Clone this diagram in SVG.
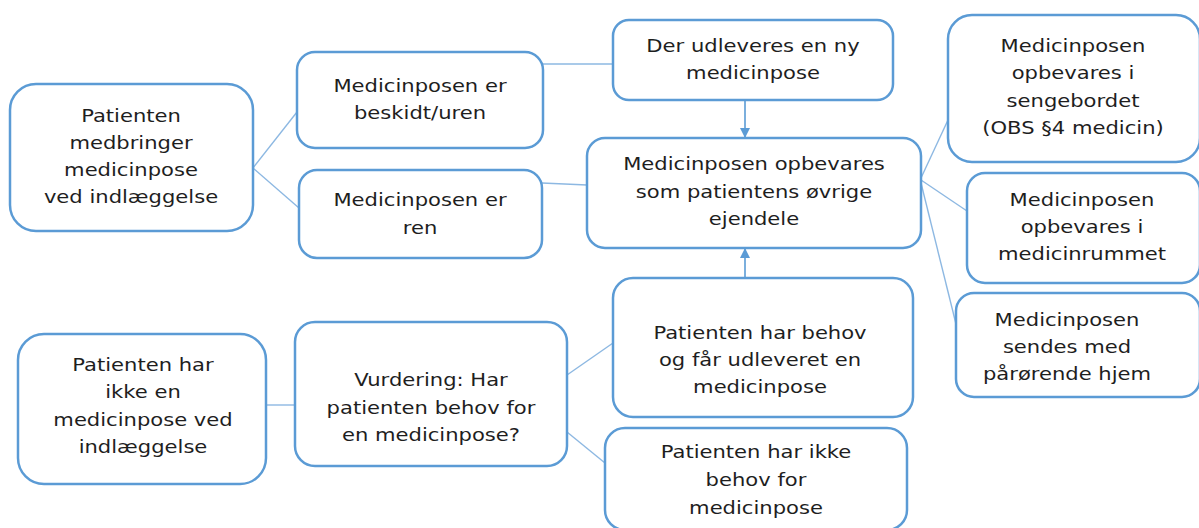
<svg xmlns="http://www.w3.org/2000/svg" width="1199" height="528" viewBox="0 0 1199 528">
<defs>
<style>
.box{fill:#fff;stroke:#5b9bd5;stroke-width:2.5}
.ln{stroke:#8db8e2;stroke-width:1.4;fill:none}
.ar{stroke:#5b9bd5;stroke-width:1.6;fill:none}
text{font-family:"DejaVu Sans","Verdana",sans-serif;font-size:18.5px;fill:#1e1e1e;text-anchor:middle}
</style>
<marker id="ah" viewBox="0 0 10 10" refX="9" refY="5" markerWidth="10" markerHeight="10" markerUnits="userSpaceOnUse" orient="auto">
<path d="M0,0 L10,5 L0,10 z" fill="#5b9bd5"/>
</marker>
</defs>
<rect width="1199" height="528" fill="#fff"/>
<g id="connectors">
<line class="ln" x1="253" y1="168" x2="297" y2="112"/>
<line class="ln" x1="253" y1="168" x2="299" y2="208"/>
<line class="ln" x1="543" y1="64" x2="613" y2="64"/>
<line class="ln" x1="542" y1="183" x2="587" y2="185"/>
<line class="ar" x1="745" y1="100" x2="745" y2="137" marker-end="url(#ah)"/>
<line class="ar" x1="745" y1="278" x2="745" y2="249" marker-end="url(#ah)"/>
<line class="ln" x1="921" y1="178" x2="948" y2="120"/>
<line class="ln" x1="921" y1="180" x2="967" y2="211"/>
<line class="ln" x1="921" y1="183" x2="957" y2="328"/>
<line class="ln" x1="266" y1="405" x2="295" y2="405"/>
<line class="ln" x1="567" y1="375" x2="613" y2="343"/>
<line class="ln" x1="567" y1="432" x2="605" y2="463"/>
</g>
<g id="nA"><rect class="box" x="10" y="84" width="243" height="147" rx="26"/>
<g transform="translate(131,0) scale(1.14,1)"><text x="0" y="122">Patienten</text><text x="0" y="149">medbringer</text><text x="0" y="176">medicinpose</text><text x="0" y="203">ved indlæggelse</text></g></g>
<g id="nB"><rect class="box" x="297" y="52" width="246" height="96" rx="18"/>
<g transform="translate(420,0) scale(1.14,1)"><text x="0" y="92">Medicinposen er</text><text x="0" y="119">beskidt/uren</text></g></g>
<g id="nC"><rect class="box" x="299" y="170" width="243" height="88" rx="18"/>
<g transform="translate(420,0) scale(1.14,1)"><text x="0" y="206">Medicinposen er</text><text x="0" y="234">ren</text></g></g>
<g id="nD"><rect class="box" x="613" y="20" width="280" height="80" rx="16"/>
<g transform="translate(753,0) scale(1.14,1)"><text x="0" y="52">Der udleveres en ny</text><text x="0" y="79">medicinpose</text></g></g>
<g id="nE"><rect class="box" x="587" y="138" width="334" height="110" rx="18"/>
<g transform="translate(754,0) scale(1.14,1)"><text x="0" y="170">Medicinposen opbevares</text><text x="0" y="198">som patientens øvrige</text><text x="0" y="225">ejendele</text></g></g>
<g id="nF"><rect class="box" x="948" y="15" width="252" height="147" rx="24"/>
<g transform="translate(1073,0) scale(1.14,1)"><text x="0" y="52">Medicinposen</text><text x="0" y="79">opbevares i</text><text x="0" y="107">sengebordet</text><text x="0" y="134">(OBS §4 medicin)</text></g></g>
<g id="nG"><rect class="box" x="967" y="173" width="233" height="110" rx="18"/>
<g transform="translate(1082,0) scale(1.14,1)"><text x="0" y="206">Medicinposen</text><text x="0" y="233">opbevares i</text><text x="0" y="260">medicinrummet</text></g></g>
<g id="nH"><rect class="box" x="956" y="293" width="244" height="104" rx="18"/>
<g transform="translate(1067,0) scale(1.14,1)"><text x="0" y="326">Medicinposen</text><text x="0" y="353">sendes med</text><text x="0" y="380">pårørende hjem</text></g></g>
<g id="nI"><rect class="box" x="18" y="334" width="248" height="150" rx="26"/>
<g transform="translate(143,0) scale(1.14,1)"><text x="0" y="371">Patienten har</text><text x="0" y="398">ikke en</text><text x="0" y="426">medicinpose ved</text><text x="0" y="453">indlæggelse</text></g></g>
<g id="nJ"><rect class="box" x="295" y="322" width="272" height="144" rx="20"/>
<g transform="translate(431,0) scale(1.14,1)"><text x="0" y="386">Vurdering: Har</text><text x="0" y="414">patienten behov for</text><text x="0" y="441">en medicinpose?</text></g></g>
<g id="nK"><rect class="box" x="613" y="278" width="300" height="139" rx="20"/>
<g transform="translate(760,0) scale(1.14,1)"><text x="0" y="339">Patienten har behov</text><text x="0" y="366">og får udleveret en</text><text x="0" y="393">medicinpose</text></g></g>
<g id="nL"><rect class="box" x="605" y="428" width="302" height="102" rx="20"/>
<g transform="translate(756,0) scale(1.14,1)"><text x="0" y="458">Patienten har ikke</text><text x="0" y="486">behov for</text><text x="0" y="514">medicinpose</text></g></g>
</svg>
